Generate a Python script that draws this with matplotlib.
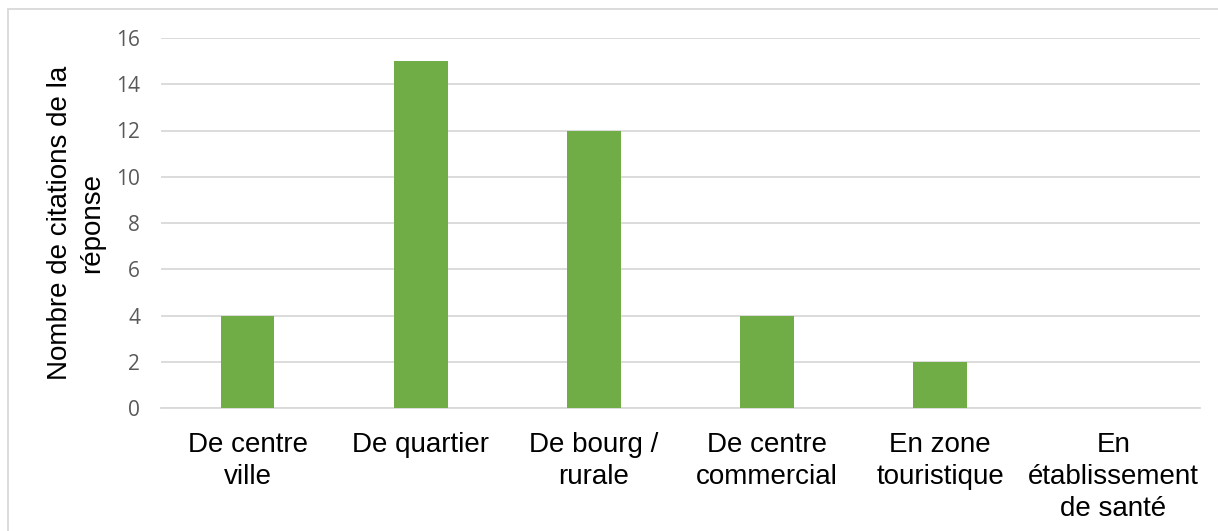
import matplotlib
matplotlib.use("Agg")
import matplotlib.pyplot as plt
from matplotlib.patches import Rectangle

categories = ["De centre\nville", "De quartier", "De bourg /\nrurale",
              "De centre\ncommercial", "En zone\ntouristique",
              "En\nétablissement\nde santé"]
values = [4, 15, 12, 4, 2, 0]
yticks = [0, 2, 4, 6, 8, 10, 12, 14, 16]

fig = plt.figure(figsize=(12.18, 5.31), dpi=100)
ax = fig.add_axes([161 / 1218, 1 - 408 / 531, (1200 - 161) / 1218, (408 - 38) / 531])

# light grey frame round the chart (only left/top visible in the picture)
fig.patches.append(Rectangle((8 / 1218, -0.1), 1.2, 1 - 9 / 531 + 0.1,
                             transform=fig.transFigure, fill=False,
                             edgecolor="#d9d9d9", linewidth=1.3))

x = list(range(len(categories)))
ax.bar(x, values, width=0.31, color="#70ad47", zorder=3)

ax.set_xlim(-0.5, len(categories) - 0.5)
ax.set_ylim(0, 16)
ax.set_yticks(yticks)
ax.set_yticklabels([str(v) for v in yticks], fontsize=15,
                   family="Open Sans", color="#595959")
ax.set_xticks(x)
ax.set_xticklabels(categories, fontsize=20, family="Liberation Sans",
                   color="black", linespacing=1.3, va="top")
ax.tick_params(axis="both", length=0)
ax.tick_params(axis="y", pad=15)
ax.tick_params(axis="x", pad=17)

ax.grid(axis="y", color="#d9d9d9", linewidth=1.3, zorder=0)
for side in ["top", "right", "left"]:
    ax.spines[side].set_visible(False)
ax.spines["bottom"].set_color("#d9d9d9")
ax.spines["bottom"].set_linewidth(1.3)

fig.text(76 / 1218, 1 - 223 / 531, "Nombre de citations de la\nréponse",
         rotation=90, ha="center", va="center", fontsize=20,
         family="Liberation Sans", linespacing=1.3)

fig.savefig("out.png", dpi=100)
